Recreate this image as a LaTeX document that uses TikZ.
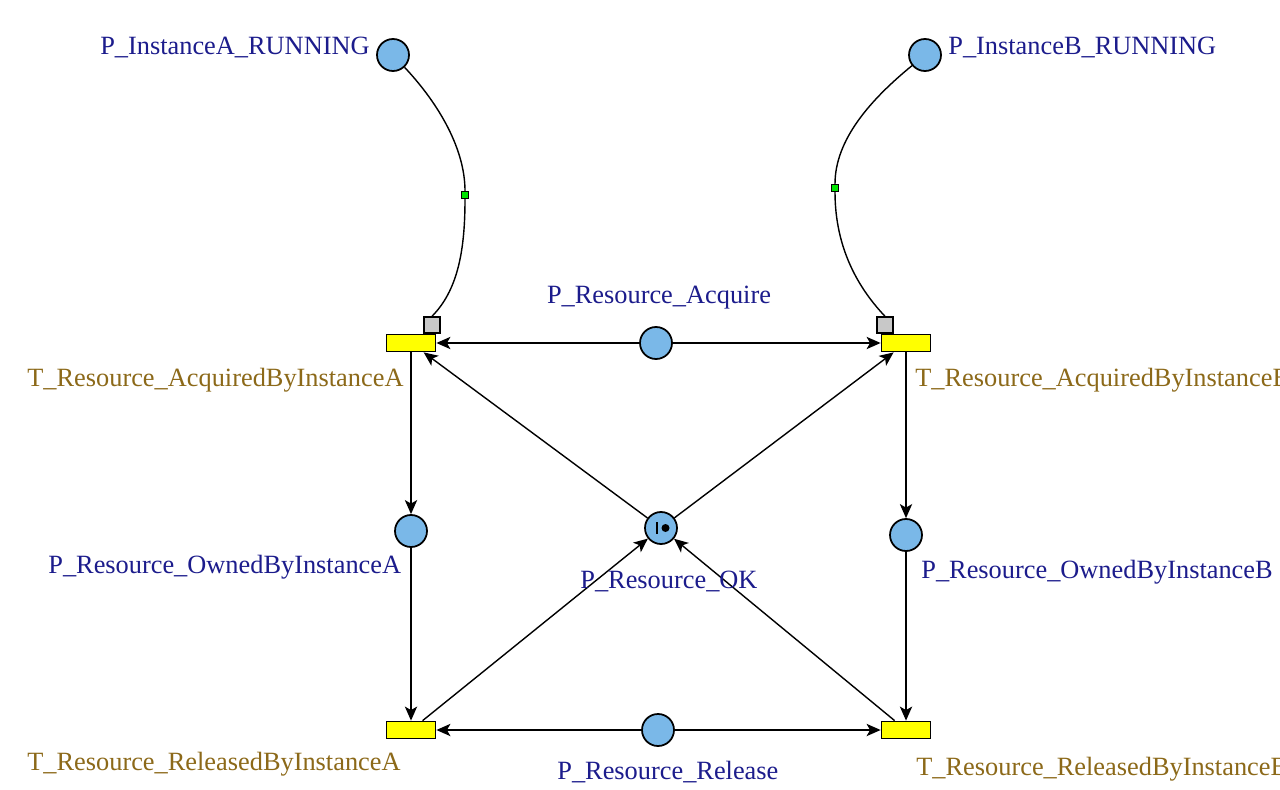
\documentclass[tikz,border=0pt]{standalone}
\usepackage{fontspec}
\setmainfont{Liberation Serif}
\usetikzlibrary{arrows.meta}
\definecolor{plabel}{RGB}{28,28,140}
\definecolor{tlabel}{RGB}{140,105,25}
\definecolor{pfill}{RGB}{122,184,232}
\definecolor{tfill}{RGB}{255,255,0}
\definecolor{gfill}{RGB}{200,200,200}
\definecolor{mfill}{RGB}{0,230,0}
\tikzset{
  place/.style={circle,draw=black,line width=1pt,fill=pfill,minimum size=32*0.02cm,inner sep=0pt},
  trans/.style={rectangle,draw=black,line width=1pt,fill=tfill,minimum width=49*0.02cm,minimum height=17*0.02cm,inner sep=0pt},
  graysq/.style={rectangle,draw=black,line width=0.8pt,fill=gfill,minimum size=16*0.02cm,inner sep=0pt},
  greensq/.style={rectangle,draw=black,line width=0.7pt,fill=mfill,minimum size=7*0.02cm,inner sep=0pt},
  plab/.style={text=plabel,inner sep=0pt,font=\fontsize{15}{17}\selectfont},
  tlab/.style={text=tlabel,inner sep=0pt,font=\fontsize{15}{17}\selectfont},
  arc/.style={draw=black,line width=0.8pt,-{Stealth[length=8pt,width=7pt,inset=2pt]}},
  plainarc/.style={draw=black,line width=0.8pt}
}
\begin{document}
\begin{tikzpicture}[x=0.02cm,y=-0.02cm]
\useasboundingbox (0,0) rectangle (1280,790);
\clip (0,0) rectangle (1280,790);
\fill[white] (0,0) rectangle (1280,790);
% places
\node[place] (pra) at (393,55) {};
\node[place] (prb) at (925,55) {};
\node[place] (acq) at (656,343) {};
\node[place] (ok) at (661,528) {};
\node[place] (owa) at (411,531) {};
\node[place] (owb) at (906,535) {};
\node[place] (rel) at (658,730) {};
% transitions
\node[trans] (ta) at (411,343) {};
\node[trans] (tb) at (906,343) {};
\node[trans] (ra) at (411,730) {};
\node[trans] (rb) at (906,730) {};
% gray and green markers
\node[graysq] (ga) at (432,325) {};
\node[graysq] (gb) at (885,325) {};
\node[greensq] (ma) at (465,195) {};
\node[greensq] (mb) at (835,188) {};
% token
\draw[line width=1.1pt] (ok.center) ++(-4,-6) -- ++(0,12);
\fill (ok.center) ++(4.5,0) circle (4);
% curved arcs
\draw[plainarc] (pra) .. controls (440,105) and (465,150) .. (ma.north);
\draw[plainarc] (ma.south) .. controls (465,250) and (458,290) .. (ga.north);
\draw[plainarc] (prb) .. controls (870,100) and (835,140) .. (mb.north);
\draw[plainarc] (mb.south) .. controls (835,250) and (860,290) .. (gb.north);
% arcs
\draw[arc] (acq) -- (ta);
\draw[arc] (acq) -- (tb);
\draw[arc] (ok) -- (ta);
\draw[arc] (ok) -- (tb);
\draw[arc] (ta) -- (owa);
\draw[arc] (owa) -- (ra);
\draw[arc] (tb) -- (owb);
\draw[arc] (owb) -- (rb);
\draw[arc] (ra) -- (ok);
\draw[arc] (rb) -- (ok);
\draw[arc] (rel) -- (ra);
\draw[arc] (rel) -- (rb);
% labels
\node[plab,anchor=base east] (lpra) at (370,55) {P\_InstanceA\_RUNNING};
\node[plab,anchor=base west] (lprb) at (948,55) {P\_InstanceB\_RUNNING};
\node[plab,anchor=base] (lacq) at (659,303) {P\_Resource\_Acquire};
\node[plab,anchor=base west] (lok) at (580,588) {P\_Resource\_OK};
\node[plab,anchor=base west] (lowa) at (48,573) {P\_Resource\_OwnedByInstanceA};
\node[plab,anchor=base west] (lowb) at (921,578) {P\_Resource\_OwnedByInstanceB};
\node[plab,anchor=base west] (lrel) at (557,779) {P\_Resource\_Release};
\node[tlab,anchor=base west] (lta) at (27,386) {T\_Resource\_AcquiredByInstanceA};
\node[tlab,anchor=base west] (ltb) at (915,386) {T\_Resource\_AcquiredByInstanceB};
\node[tlab,anchor=base west] (lra) at (27,770) {T\_Resource\_ReleasedByInstanceA};
\node[tlab,anchor=base west] (lrb) at (916,775) {T\_Resource\_ReleasedByInstanceB};
\end{tikzpicture}
\end{document}
